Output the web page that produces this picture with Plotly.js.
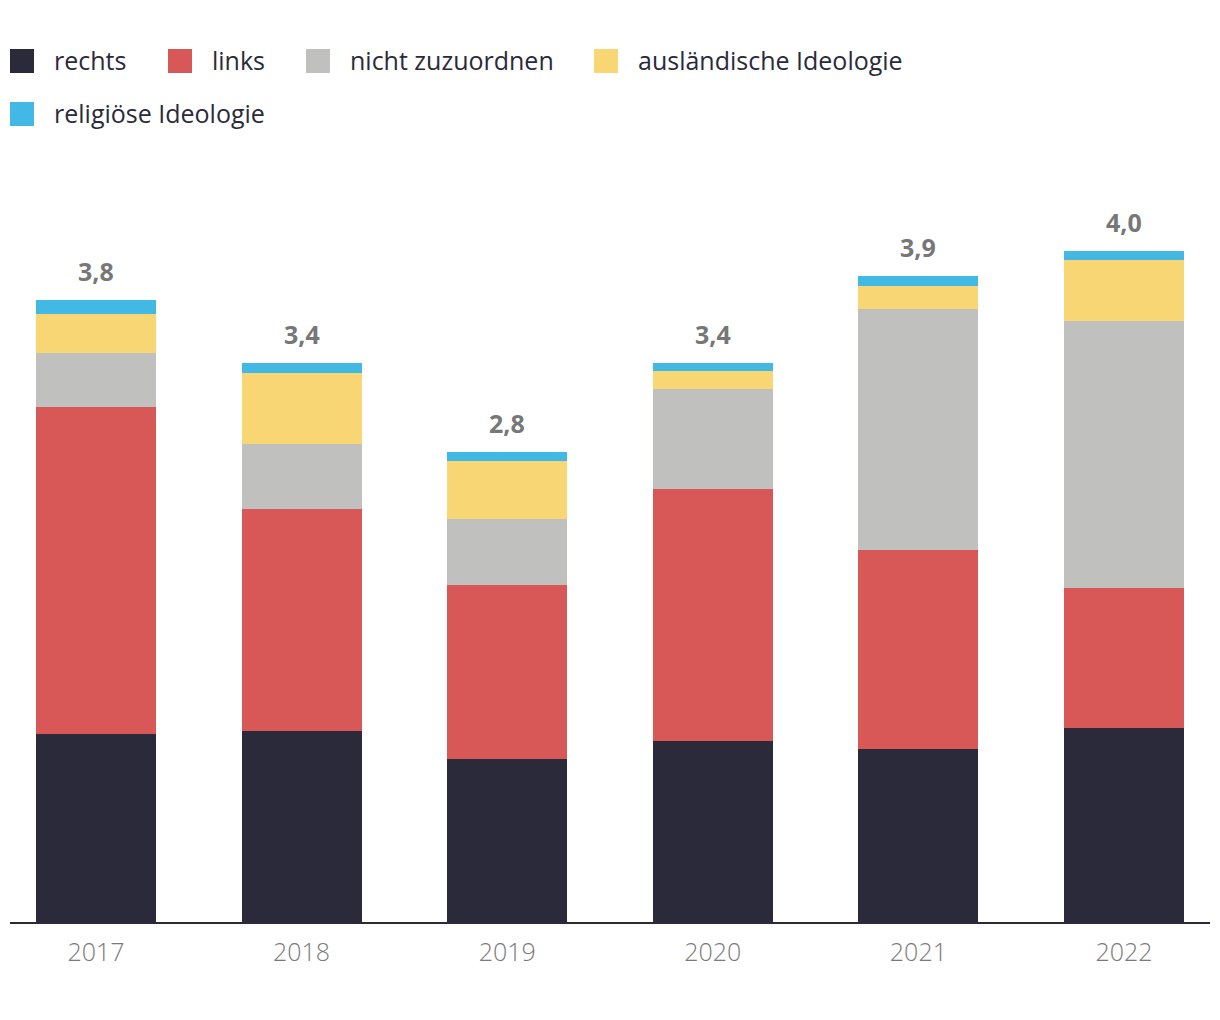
<!DOCTYPE html>
<html>
<head>
<meta charset="utf-8">
<script src="https://cdn.plot.ly/plotly-3.0.1.min.js"></script>
<style>
  html, body { margin: 0; padding: 0; background: #ffffff; }
  #chart { width: 1220px; height: 1020px; }
</style>
</head>
<body>
<div id="chart"></div>
<script>
// ---- data (thousands of cases) ----
const years = ["2017", "2018", "2019", "2020", "2021", "2022"];
const seriesNames = ["rechts", "links", "nicht zuzuordnen", "ausländische Ideologie", "religiöse Ideologie"];
const rechts   = [1.13, 1.15, 0.98, 1.09, 1.04, 1.17];
const links    = [1.97, 1.34, 1.05, 1.52, 1.20, 0.84];
const nicht    = [0.33, 0.39, 0.40, 0.60, 1.45, 1.61];
const auslaend = [0.23, 0.43, 0.35, 0.11, 0.14, 0.37];
const religioes= [0.09, 0.06, 0.05, 0.05, 0.06, 0.05];
const totalLabels = ["3,8", "3,4", "2,8", "3,4", "3,9", "4,0"];

const seriesValues = [rechts, links, nicht, auslaend, religioes];
const colors = ["#2b2a3a", "#d85757", "#c0c0be", "#f7d673", "#42b9e4"];

// ---- geometry helpers ----
const W = 1220, H = 1020;
const M = { l: 10, r: 10, t: 160, b: 98 };
const plotW = W - M.l - M.r;
const plotH = H - M.t - M.b;
const px2x = p => (p - M.l) / plotW;
const py2y = p => (H - M.b - p) / plotH;

const traces = seriesValues.map((vals, i) => ({
  type: "bar",
  name: seriesNames[i],
  x: years,
  y: vals,
  marker: { color: colors[i], line: { width: 0 } },
  showlegend: false,
  hoverinfo: "skip"
}));

const totals = years.map((_, j) => seriesValues.reduce((s, arr) => s + arr[j], 0));

const annotations = years.map((yr, j) => ({
  x: j, y: totals[j], xref: "x", yref: "y",
  text: "<b>" + totalLabels[j] + "</b>",
  showarrow: false,
  xanchor: "center",
  yanchor: "bottom",
  yshift: 10,
  font: { family: "Open Sans, Noto Sans, sans-serif", size: 25, color: "#777777" }
}));

// ---- custom legend (big square swatches) ----
const legendPos = [
  { sx: 10, cy: 61, tx: 54 },
  { sx: 168, cy: 61, tx: 212 },
  { sx: 306, cy: 61, tx: 350 },
  { sx: 594, cy: 61, tx: 638 },
  { sx: 10, cy: 114, tx: 54 }
];
const shapes = [];
seriesNames.forEach((nm, i) => {
  const p = legendPos[i];
  shapes.push({
    type: "rect", xref: "paper", yref: "paper",
    x0: px2x(p.sx), x1: px2x(p.sx + 24),
    y0: py2y(p.cy + 12), y1: py2y(p.cy - 12),
    fillcolor: colors[i], line: { width: 0 }, layer: "above"
  });
  annotations.push({
    xref: "paper", yref: "paper",
    x: px2x(p.tx - 2), y: py2y(p.cy - 1),
    xanchor: "left", yanchor: "middle",
    text: nm, showarrow: false,
    font: { family: "Open Sans, Noto Sans, sans-serif", size: 25, color: "#2b2a3a" }
  });
});

const layout = {
  width: W, height: H,
  margin: M,
  paper_bgcolor: "#ffffff",
  plot_bgcolor: "#ffffff",
  barmode: "stack",
  bargap: 0.4163,
  showlegend: false,
  xaxis: {
    type: "category",
    range: [-0.4183, 5.4183],
    showgrid: false,
    zeroline: false,
    showline: true,
    linecolor: "#2b2a3a",
    linewidth: 2,
    ticks: "outside",
    ticklen: 7,
    tickcolor: "rgba(0,0,0,0)",
    tickfont: { family: "Open Sans, Noto Sans, sans-serif", size: 25, color: "#7a7a7a", weight: 300 },
    fixedrange: true
  },
  yaxis: {
    range: [0, plotH / 166],
    showgrid: false,
    zeroline: false,
    showline: false,
    showticklabels: false,
    ticks: "",
    fixedrange: true
  },
  shapes: shapes,
  annotations: annotations
};

Plotly.newPlot("chart", traces, layout, { staticPlot: true, displayModeBar: false });
</script>
</body>
</html>
